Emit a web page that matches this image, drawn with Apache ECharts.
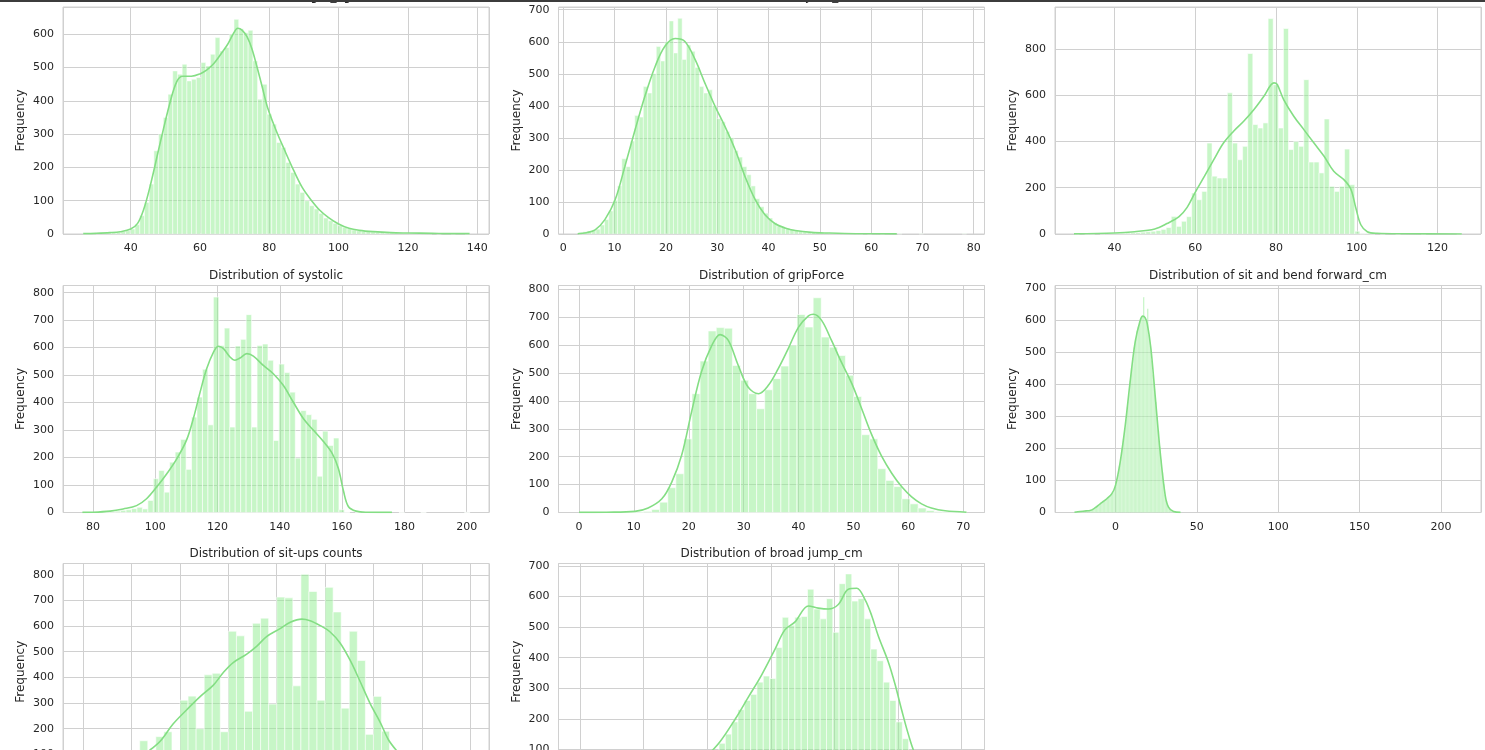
<!DOCTYPE html>
<html><head><meta charset="utf-8">
<script src="https://cdn.jsdelivr.net/npm/echarts@6/dist/echarts.min.js"></script>
<style>
html,body{margin:0;padding:0;background:#fff;overflow:hidden;width:1485px;height:750px;}
#chart{position:absolute;left:0;top:0;width:1485px;height:800px;}
#topbar{position:absolute;left:0;top:0;width:1485px;height:2px;background:#3c3c3c;z-index:5;}
</style></head><body>
<div id="chart"></div><div id="topbar"></div>
<script>
// ---------- weight_kg ----------
const weightBinStart = 26.3, weightBinWidth = 1.36;
const weightCounts = [1,1,1,2,2,3,4,5,8,10,
  15,28,55,95,150,250,300,350,420,490,480,510,460,465,470,515,505,540,590,550,560,600,645,617,605,612,520,405,450,360,330,275,260,215,185,150,125,100,85,75,62,48,40,32,25,20,16,12,10,8,7,6,5,
  4,3,3,2,2,2,1,1,1,1,1,0,1,0,0,1,0,0,1];
const weightKdeX = [26.3,30,34,37,40,42,43.7,45.6,48.5,51.3,53.3,55,57.5,60,62,64,66,68,69.7,70.9,72.2,73.6,75,76.5,78,79.5,82,84.5,87,89.5,92,94.5,97,100,103,106,110,115,120,127,132,137.8];
const weightKdeY = [1,2,4,7,15,32,72,143,273,393,458,474,474,481,493,512,540,570,603,618,612,592,556,500,440,380,310,250,192,140,103,72,50,30,17,11,7,4,3,2,1,1];

// ---------- body fat_% ----------
const fatBinStart = 3.0, fatBinWidth = 0.84;
const fatCounts = [5,7,9,12,15,28,45,72,105,150,
  235,210,290,370,365,460,440,500,585,540,600,665,565,673,545,590,570,520,460,440,450,400,360,350,320,300,260,240,210,185,150,110,85,65,50,35,25,22,18,14,11,9,7,6,5,4,3,3,
  2,2,2,1,1,1,1,1,0,1,0,0,1,0,0,0,1,0,0,0,0,1,0,0,0,0,0,0,0,0,0,1];
const fatKdeX = [2.8,4.5,6.2,8.1,10.1,12,14,15.9,17.9,19.8,21.8,23.7,25.7,27.6,29.6,31.5,33.5,35.4,37.4,39.3,41.3,43.2,45.2,48.4,51.7,57,65];
const fatKdeY = [1,4,13,45,107,211,326,430,523,586,610,601,544,471,398,336,263,180,107,60,32,19,11,5,3,1,0.3];

// ---------- diastolic ----------
const diaBinStart = 30.1, diaBinWidth = 1.2618;
const diaCounts = [1,0,1,1,0,1,2,2,3,3,4,5,6,8,10,12,15,
  20,28,76,33,55,75,177,148,184,393,250,242,242,610,393,321,379,780,473,458,480,931,645,458,888,365,400,379,667,311,311,264,497,206,184,206,367,213,12,
  1,2,1,0,1,0,0,1,0,0,0,0,1,0,0,0,0,0,0,1];
const diaKdeX = [30,40,45,50,53,56,58,60,62.3,64.6,67,69.5,72,74.5,77,79.5,80.3,81.9,84.4,86.9,89.4,91.9,94.3,96.8,98.5,99.8,101,102.6,105,112,126];
const diaKdeY = [0.5,4,10,22,45,75,115,180,250,321,393,444,487,537,595,653,646,581,509,451,393,336,271,235,195,110,40,10,3,1,0.3];

// ---------- systolic ----------
const sysBinStart = 76.59, sysBinWidth = 1.753;
const sysCounts = [0,1,1,2,2,4,5,8,10,14,
  19,13,44,123,153,74,183,220,266,157,347,420,521,319,784,608,671,311,606,630,720,311,608,613,554,262,540,509,438,198,371,356,339,132,296,244,271,10,
  1,0,1,0,0,1,0,0,0,0,1,0,0,0,1,0,0,0,0,0,0,0,1];
const sysKdeX = [76.6,80,85.5,89.7,94,97.2,100.4,103.7,106.9,110.1,112.3,114.4,116.5,118.7,120.3,121.9,124,125.6,127.2,129.4,131.5,134.7,137.9,141.1,144.3,147.6,150.8,154,156.8,158.8,160.4,162,164.5,168,176];
const sysKdeY = [0.5,1,5,13,25,50,92,141,195,265,345,438,523,584,605,596,566,554,562,578,569,535,505,463,402,341,299,258,215,160,80,22,5,1,0.3];

// ---------- gripForce ----------
const gripBinStart = 0, gripBinWidth = 1.471;
const gripCounts = [0,1,0,0,1,1,1,2,4,
  11,37,89,139,
  264,426,543,651,663,661,527,474,426,372,440,480,525,600,710,665,770,629,593,563,492,416,279,264,157,115,93,49,31,16,7,3,2,1,1];
const gripKdeX = [0,5,10.2,12.6,15.1,16.9,18.7,20.5,22.3,24.2,25.7,27.2,29,30.8,32.7,34.5,36.3,38.1,40,41.8,42.7,44.2,46,47.8,49.7,51.5,53.3,55.1,57,58.8,60.6,62.4,64.2,66.7,70.6];
const gripKdeY = [0.3,1,4,16,49,109,205,360,504,599,638,617,528,450,426,456,516,587,665,705,711,689,617,539,462,372,280,203,140,92,56,31,16,6,1];

// ---------- sit and bend forward_cm ----------
const bendBinStart = -25.2, bendBinWidth = 0.826;
const bendCounts = [1,0,2,3,4,3,5,4,5,6,5,6,8,10,12,15,17,20,24,28,31,35,38,41,44,48,52,56,62,70,
  85,100,118,145,172,198,230,262,290,330,368,410,450,480,515,540,565,580,598,605,612,672,608,600,636,555,520,475,430,385,345,300,255,205,165,125,88,55,36,22,14,8,5,3,2,1,1,0,1,0];
const bendKdeX = [-25.2,-21.8,-18,-15.6,-12.4,-9.4,-7,-5.3,-2.3,0,2.9,6,9,12.1,15.2,16.8,18.2,19.5,21.8,24.4,27.5,30.6,32.6,35.7,40];
const bendKdeY = [1,3,5,6,15,27,36,43,58,84,157,271,407,532,599,613,608,590,511,365,188,53,17,3,0.3];

// ---------- sit-ups counts ----------
const situpBinStart = 0, situpBinWidth = 1.6667;
const situpCounts = [40,18,8,25,40,25,90,153,60,169,188,110,
  311,327,200,410,416,188,580,562,268,611,631,296,713,710,367,802,735,311,751,655,280,580,466,178,326,190,
  65,100,70,20,30,14,4,6,3,2];
const situpKdeX = [0,2,5,8,10,12,14,15.9,18.6,21.4,24.1,26.9,29,31,33.8,35.9,37.9,40.7,42.8,45.2,46.9,49,51,53.1,55.2,57.2,59.3,61.4,63.1,65,67,70,73,76,80];
const situpKdeY = [15,20,30,45,60,85,120,151,219,274,324,370,420,458,491,522,559,590,615,627,621,602,578,534,466,386,299,225,157,110,70,35,15,6,2];

// ---------- broad jump_cm ----------
const jumpBinStart = 0, jumpBinWidth = 4.967;
const jumpCounts = [3,0,1,0,1,1,0,1,1,2,
  2,3,5,7,10,15,20,30,40,55,75,95,120,150,190,230,260,280,320,340,
  332,433,532,506,532,535,624,559,527,593,483,642,674,585,593,527,428,390,320,260,190,135,88,50,25,12,5,3,1,1,1];
const jumpKdeX = [0,40,60,70,80,90,100,110,121.8,132.3,142.8,153.3,161,169,179.5,187.3,195.2,203,210.9,217.5,224,229.2,234.5,242.3,247.6,252.8,258,263,270,280,290,303];
const jumpKdeY = [1,2,5,10,22,45,80,125,198,271,344,428,491,517,569,562,559,574,624,627,590,538,470,386,313,229,150,88,38,12,3,1];

// ---------- layout / style ----------
const FONT = 'DejaVu Sans';
const TEXT = '#262626';
const GRIDC = '#d0d0d0';
const colLeft = [63, 558.5, 1055];
const rowTop = [7, 285.5, 563.5];
const PW = 426, PH = 227;

const panels = [
  {title:'Distribution of weight_kg', s:weightBinStart, w:weightBinWidth, c:weightCounts, kx:weightKdeX, ky:weightKdeY, xMin:20.47, xMax:143.4, xStep:20, yMax:682, yStep:100},
  {title:'Distribution of body fat_%', s:fatBinStart, w:fatBinWidth, c:fatCounts, kx:fatKdeX, ky:fatKdeY, xMin:-0.94, xMax:82.1, xStep:10, yMax:708.5, yStep:100},
  {title:'Distribution of diastolic', s:diaBinStart, w:diaBinWidth, c:diaCounts, kx:diaKdeX, ky:diaKdeY, xMin:25.29, xMax:130.75, xStep:20, yMax:981, yStep:200},
  {title:'Distribution of systolic', s:sysBinStart, w:sysBinWidth, c:sysCounts, kx:sysKdeX, ky:sysKdeY, xMin:70.37, xMax:207.17, xStep:20, yMax:826, yStep:100},
  {title:'Distribution of gripForce', s:gripBinStart, w:gripBinWidth, c:gripCounts, kx:gripKdeX, ky:gripKdeY, xMin:-3.73, xMax:73.87, xStep:10, yMax:814, yStep:100},
  {title:'Distribution of sit and bend forward_cm', s:bendBinStart, w:bendBinWidth, c:bendCounts, kx:bendKdeX, ky:bendKdeY, xMin:-37.14, xMax:224.6, xStep:50, yMax:708.5, yStep:100},
  {title:'Distribution of sit-ups counts', s:situpBinStart, w:situpBinWidth, c:situpCounts, kx:situpKdeX, ky:situpKdeY, xMin:-4.2, xMax:83.9, xStep:10, yMax:844, yStep:100},
  {title:'Distribution of broad jump_cm', s:jumpBinStart, w:jumpBinWidth, c:jumpCounts, kx:jumpKdeX, ky:jumpKdeY, xMin:-16.9, xMax:317.9, xStep:50, yMax:708, yStep:100}
];

function renderBar(params, api) {
  const x0 = api.value(0), x1 = api.value(1), cnt = api.value(2);
  if (!cnt) return null;
  const p0 = api.coord([x0, cnt]);
  const p1 = api.coord([x1, 0]);
  const wpx = p1[0] - p0[0];
  return {
    type: 'rect',
    shape: {x: p0[0], y: p0[1], width: wpx, height: p1[1] - p0[1]},
    style: {fill: 'rgba(144,238,144,0.5)', stroke: 'rgba(255,255,255,0.75)', lineWidth: Math.min(0.8, wpx * 0.15)}
  };
}

const grids = [], xAxes = [], yAxes = [], series = [], graphics = [];
panels.forEach((p, i) => {
  const col = i % 3, row = Math.floor(i / 3);
  grids.push({left: colLeft[col], top: rowTop[row], width: PW, height: PH, show: true,
    borderColor: GRIDC, borderWidth: 1, backgroundColor: 'transparent', containLabel: false});
  xAxes.push({gridIndex: i, type: 'value', min: p.xMin, max: p.xMax, minInterval: p.xStep, maxInterval: p.xStep,
    axisLine: {show: false}, axisTick: {show: false},
    axisLabel: {showMinLabel: false, showMaxLabel: false, color: TEXT, fontFamily: FONT, fontSize: 11, margin: 9},
    splitLine: {show: true, lineStyle: {color: GRIDC, width: 1}}});
  yAxes.push({gridIndex: i, type: 'value', min: 0, max: p.yMax, interval: p.yStep,
    name: 'Frequency', nameLocation: 'middle', nameGap: 36,
    nameTextStyle: {color: TEXT, fontFamily: FONT, fontSize: 12},
    axisLine: {show: false}, axisTick: {show: false},
    axisLabel: {showMaxLabel: false, color: TEXT, fontFamily: FONT, fontSize: 11, margin: 9},
    splitLine: {show: true, lineStyle: {color: GRIDC, width: 1}}});
  const bins = p.c.map((v, k) => [p.s + k * p.w, p.s + (k + 1) * p.w, v]);
  series.push({type: 'custom', xAxisIndex: i, yAxisIndex: i, renderItem: renderBar,
    encode: {x: [0, 1], y: 2}, data: bins, silent: true, z: 2});
  series.push({type: 'line', xAxisIndex: i, yAxisIndex: i,
    data: p.kx.map((x, k) => [x, p.ky[k]]), smooth: 0.35,
    showSymbol: false, symbol: 'none', silent: true, z: 3,
    lineStyle: {color: '#84de84', width: 1.6}});
  graphics.push({type: 'text', x: colLeft[col] + PW / 2, y: rowTop[row] - 10,
    style: {text: p.title, fill: TEXT, fontFamily: FONT, fontSize: 12,
      align: 'center', verticalAlign: 'middle', textAlign: 'center', textVerticalAlign: 'middle'}});
});

const chart = echarts.init(document.getElementById('chart'), null, {renderer: 'canvas'});
chart.setOption({
  animation: false,
  backgroundColor: '#ffffff',
  grid: grids, xAxis: xAxes, yAxis: yAxes, series: series, graphic: graphics
});
</script></body></html>
